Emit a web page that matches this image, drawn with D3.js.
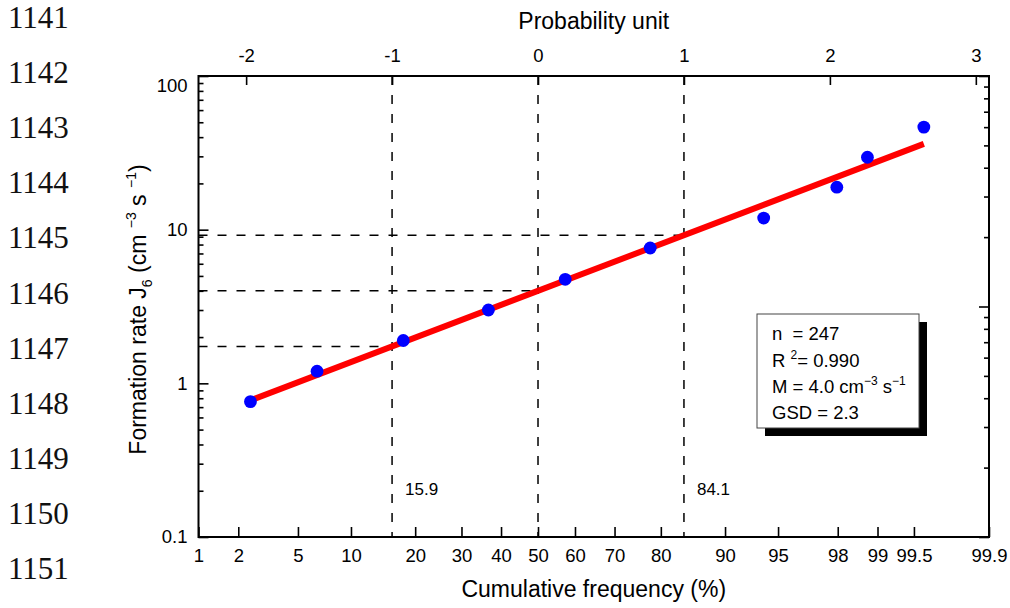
<!DOCTYPE html>
<html>
<head>
<meta charset="utf-8">
<script src="https://cdn.jsdelivr.net/npm/d3@7"></script>
<style>
  body { margin: 0; background: #fff; }
  svg { display: block; font-family: "Liberation Sans", Arial, sans-serif; }
  text { white-space: pre; }
</style>
</head>
<body>
<svg id="chart" width="1010" height="608"></svg>
<script>
// Cumulative frequency (%) of each size-resolved J6 bin
const cumFreq = [2.44, 6.5, 17.8, 36.7, 57.4, 77.9, 93.9, 97.97, 98.8, 99.59];
// Formation rate J6 (cm^-3 s^-1) of each bin
const rateJ6 = [0.76, 1.2, 1.9, 3.0, 4.75, 7.6, 11.9, 18.9, 29.6, 46.5];

// Log-normal fit: geometric mean M and geometric standard deviation
const fitMedian = 4.0;
const fitGSD = 2.3;
const fitN = 247;
const fitR2 = "0.990";

// Axis ticks
const freqTicks = [1, 2, 5, 10, 20, 30, 40, 50, 60, 70, 80, 90, 95, 98, 99, 99.5, 99.9];
const probitTicks = [-2, -1, 0, 1, 2, 3];
const rateTicks = [0.1, 1, 10, 100];
const rateMinor = [0.2,0.3,0.4,0.5,0.6,0.7,0.8,0.9, 2,3,4,5,6,7,8,9, 20,30,40,50,60,70,80,90];
const rightMajor = [1, 10, 100];
const rightMinor = [2,3,4,5,6,7,8,9, 20,30,40,50,60,70,80,90];

// Guide lines at -1, 0, +1 probability units and their percentile labels
const guideProbits = [-1, 0, 1];
const guideLabels = ["15.9", "", "84.1"];

// Manuscript line numbers in the margin
const lineNumbers = ["1141","1142","1143","1144","1145","1146","1147","1148","1149","1150","1151"];

// Inverse standard normal CDF (Acklam's rational approximation)
function probit(p) {
  const a = [-3.969683028665376e+01, 2.209460984245205e+02, -2.759285104469687e+02, 1.383577518672690e+02, -3.066479806614716e+01, 2.506628277459239e+00];
  const b = [-5.447609879822406e+01, 1.615858368580409e+02, -1.556989798598866e+02, 6.680131188771972e+01, -1.328068155288572e+01];
  const c = [-7.784894002430293e-03, -3.223964580411365e-01, -2.400758277161838e+00, -2.549732539343734e+00, 4.374664141464968e+00, 2.938163982698783e+00];
  const d = [7.784695709041462e-03, 3.224671290700398e-01, 2.445134137142996e+00, 3.754408661907416e+00];
  const pl = 0.02425, ph = 1 - pl;
  if (p < pl) {
    const q = Math.sqrt(-2 * Math.log(p));
    return (((((c[0]*q+c[1])*q+c[2])*q+c[3])*q+c[4])*q+c[5]) / ((((d[0]*q+d[1])*q+d[2])*q+d[3])*q+1);
  }
  if (p <= ph) {
    const q = p - 0.5, r = q * q;
    return (((((a[0]*r+a[1])*r+a[2])*r+a[3])*r+a[4])*r+a[5])*q / (((((b[0]*r+b[1])*r+b[2])*r+b[3])*r+b[4])*r+1);
  }
  const q = Math.sqrt(-2 * Math.log(1 - p));
  return -(((((c[0]*q+c[1])*q+c[2])*q+c[3])*q+c[4])*q+c[5]) / ((((d[0]*q+d[1])*q+d[2])*q+d[3])*q+1);
}

const svg = d3.select("#chart");
const L = 198.5, R = 989, T = 76, B = 537;

// x: probability units (linear); percent axis placed through probit()
const x = d3.scaleLinear().domain([probit(0.01), probit(0.999)]).range([L, R]);
const y = d3.scaleLog().domain([0.1, 100]).range([B, T]);
const yRight = d3.scaleLog().domain([1, 100]).range([B, T]);
const fit = p => fitMedian * Math.pow(fitGSD, p);

const tickFont = "18.5px";

// Margin line numbers
const lineY = d3.scaleLinear().domain([0, lineNumbers.length - 1]).range([28, 579]);
svg.append("g")
  .selectAll("text").data(lineNumbers).join("text")
  .attr("x", 8).attr("y", (d, i) => lineY(i))
  .attr("font-family", "'Liberation Serif', 'Times New Roman', serif")
  .attr("font-size", "31px").attr("fill", "#111")
  .text(d => d);

// Dashed guide lines
const guides = svg.append("g").attr("stroke", "#000").attr("stroke-width", 1.5)
  .attr("stroke-dasharray", "9,10").attr("fill", "none");
guides.selectAll("line.v").data(guideProbits).join("line").attr("class", "v")
  .attr("x1", d => x(d)).attr("x2", d => x(d)).attr("y1", T).attr("y2", B);
guides.selectAll("line.h").data(guideProbits).join("line").attr("class", "h")
  .attr("x1", L).attr("x2", d => x(d))
  .attr("y1", d => y(fit(d))).attr("y2", d => y(fit(d)));

svg.append("g").selectAll("text").data(guideProbits).join("text")
  .attr("x", d => x(d) + 13).attr("y", 495)
  .attr("font-size", "17px").attr("fill", "#000")
  .text((d, i) => guideLabels[i]);

// Axes
function styleAxis(g) {
  g.select(".domain").remove();
  g.selectAll(".tick line").attr("stroke", "#000").attr("stroke-width", 1.6);
  g.selectAll(".tick text").attr("fill", "#000").attr("font-size", tickFont)
    .attr("font-family", "'Liberation Sans', Arial, sans-serif");
}

svg.append("g").attr("transform", `translate(0,${B})`)
  .call(d3.axisBottom(x)
    .tickValues(freqTicks.map(f => probit(f / 100)))
    .tickFormat((d, i) => freqTicks[i])
    .tickSizeInner(-10).tickSizeOuter(0).tickPadding(12))
  .call(styleAxis);

svg.append("g").attr("transform", `translate(0,${T})`)
  .call(d3.axisTop(x).tickValues(probitTicks).tickFormat(d => d < 0 ? "-" + Math.abs(d) : d)
    .tickSizeInner(-9).tickSizeOuter(0).tickPadding(14))
  .call(styleAxis);

const leftAxis = svg.append("g").attr("transform", `translate(${L},0)`)
  .call(d3.axisLeft(y).tickValues(rateTicks).tickFormat(d => String(d))
    .tickSizeInner(-10).tickSizeOuter(0).tickPadding(11))
  .call(styleAxis);
leftAxis.selectAll(".tick").filter(d => d === 100).select("text").attr("dy", "0.82em");

svg.append("g").attr("transform", `translate(${L},0)`)
  .call(d3.axisLeft(y).tickValues(rateMinor).tickFormat("").tickSizeInner(-5).tickSizeOuter(0))
  .call(styleAxis);

svg.append("g").attr("transform", `translate(${R},0)`)
  .call(d3.axisRight(yRight).tickValues(rightMajor).tickFormat("").tickSizeInner(-10).tickSizeOuter(0))
  .call(styleAxis);
svg.append("g").attr("transform", `translate(${R},0)`)
  .call(d3.axisRight(yRight).tickValues(rightMinor).tickFormat("").tickSizeInner(-5).tickSizeOuter(0))
  .call(styleAxis);

// Plot frame
svg.append("rect").attr("x", L).attr("y", T).attr("width", R - L).attr("height", B - T)
  .attr("fill", "none").attr("stroke", "#000").attr("stroke-width", 2);

// Fitted log-normal line spanning the data
const pFirst = probit(cumFreq[0] / 100), pLast = probit(cumFreq[cumFreq.length - 1] / 100);
svg.append("path")
  .datum([pFirst, pLast])
  .attr("d", d3.line().x(p => x(p)).y(p => y(fit(p))))
  .attr("stroke", "#ff0000").attr("stroke-width", 6).attr("fill", "none");

// Data points
svg.append("g").selectAll("circle").data(cumFreq).join("circle")
  .attr("cx", d => x(probit(d / 100)))
  .attr("cy", (d, i) => y(rateJ6[i]))
  .attr("r", 6.4).attr("fill", "#0000ff");

// Axis titles
svg.append("text").attr("x", (L + R) / 2).attr("y", 29).attr("text-anchor", "middle")
  .attr("font-size", "23px").attr("fill", "#000").text("Probability unit");
svg.append("text").attr("x", (L + R) / 2).attr("y", 597).attr("text-anchor", "middle")
  .attr("font-size", "23px").attr("fill", "#000").text("Cumulative frequency (%)");

const yTitle = svg.append("text")
  .attr("transform", `translate(146,${(T + B) / 2 + 3}) rotate(-90)`)
  .attr("text-anchor", "middle").attr("font-size", "23px").attr("fill", "#000");
yTitle.append("tspan").text("Formation rate J");
yTitle.append("tspan").attr("font-size", "14px").attr("dy", 6).text("6");
yTitle.append("tspan").attr("dy", -6).text(" (cm ");
yTitle.append("tspan").attr("font-size", "14px").attr("dy", -10).text("−3");
yTitle.append("tspan").attr("dy", 10).text(" s ");
yTitle.append("tspan").attr("font-size", "14px").attr("dy", -10).text("−1");
yTitle.append("tspan").attr("dy", 10).text(")");

// Statistics box with drop shadow
const bx = 757, by = 314, bw = 162, bh = 114;
svg.append("rect").attr("x", bx + 8).attr("y", by + 8).attr("width", bw).attr("height", bh).attr("fill", "#000");
svg.append("rect").attr("x", bx).attr("y", by).attr("width", bw).attr("height", bh)
  .attr("fill", "#fff").attr("stroke", "#444").attr("stroke-width", 1);

const statLines = svg.append("g").attr("font-size", tickFont).attr("fill", "#000");
const t1 = statLines.append("text").attr("x", 772).attr("y", 340).text(`n  = ${fitN}`);
const t2 = statLines.append("text").attr("x", 772).attr("y", 367);
t2.append("tspan").text("R ");
t2.append("tspan").attr("font-size", "12px").attr("dy", -8).text("2");
t2.append("tspan").attr("dy", 8).text(`= ${fitR2}`);
const t3 = statLines.append("text").attr("x", 772).attr("y", 393);
t3.append("tspan").text(`M = ${fitMedian.toFixed(1)} cm`);
t3.append("tspan").attr("font-size", "12px").attr("dy", -8).text("−3");
t3.append("tspan").attr("dy", 8).text(" s");
t3.append("tspan").attr("font-size", "12px").attr("dy", -8).text("−1");
statLines.append("text").attr("x", 772).attr("y", 419).text(`GSD = ${fitGSD}`);
</script>
</body>
</html>
